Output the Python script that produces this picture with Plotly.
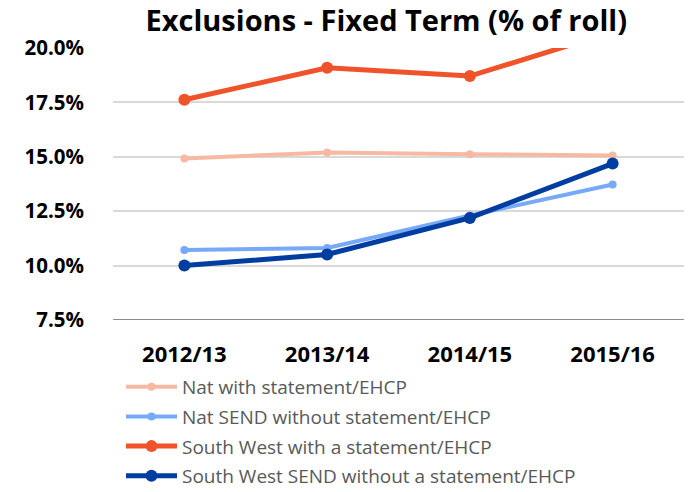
import plotly.graph_objects as go

years = ["2012/13", "2013/14", "2014/15", "2015/16"]
nat_with = [14.92, 15.2, 15.12, 15.06]
nat_send = [10.72, 10.81, 12.3, 13.73]
sw_with = [17.62, 19.09, 18.71, 20.74]
sw_send = [10.0, 10.51, 12.19, 14.69]
names = ["Nat with statement/EHCP", "Nat SEND without statement/EHCP",
         "South West with a statement/EHCP", "South West SEND without a statement/EHCP"]
colors = ["#F7B9A3", "#76A9F8", "#F0522A", "#003DA0"]
widths = [4, 4, 5, 5]
msizes = [8, 8, 12, 12]
series = [nat_with, nat_send, sw_with, sw_send]

fig = go.Figure()
for i, (nm, vals) in enumerate(zip(names, series)):
    fig.add_trace(go.Scatter(
        x=years, y=vals, name=nm, mode="lines+markers",
        line=dict(color=colors[i], width=widths[i]),
        marker=dict(color=colors[i], size=msizes[i]),
        legendgroup=str(i),
    ))

fig.update_layout(
    width=691, height=492,
    paper_bgcolor="white", plot_bgcolor="white",
    margin=dict(l=113, r=7, t=48, b=172, autoexpand=False),
    font=dict(family="Open Sans, sans-serif"),
    title=dict(text="<b>Exclusions - Fixed Term (% of roll)</b>",
               x=0.559, xanchor="center", y=0.957, yanchor="middle",
               font=dict(size=29, color="black")),
    xaxis=dict(showgrid=False, showline=False, ticks="", range=[-0.5, 3.5],
               tickfont=dict(size=22, color="black", weight="bold"),
               ticklabelstandoff=19),
    yaxis=dict(range=[7.5, 20], dtick=2.5, tick0=7.5, tickformat=".1f", ticksuffix="%",
               showgrid=True, gridcolor="#D9D9D9", gridwidth=1.5,
               zeroline=False, showline=False,
               tickfont=dict(size=20.5, color="black", weight="bold"),
               ticklabelstandoff=28),
    shapes=[dict(type="line", xref="paper", yref="y", x0=0, x1=1, y0=7.5, y1=7.5,
                 line=dict(color="#8C8C8C", width=2))],
    legend=dict(orientation="v", x=0.014, xanchor="left", y=-0.176, yanchor="top",
                font=dict(size=19, color="#595959"), tracegroupgap=2,
                itemwidth=51, bgcolor="rgba(0,0,0,0)"),
)

fig.write_html("out.html", config={"displayModeBar": False},
               post_script="document.body.style.margin='0';")
